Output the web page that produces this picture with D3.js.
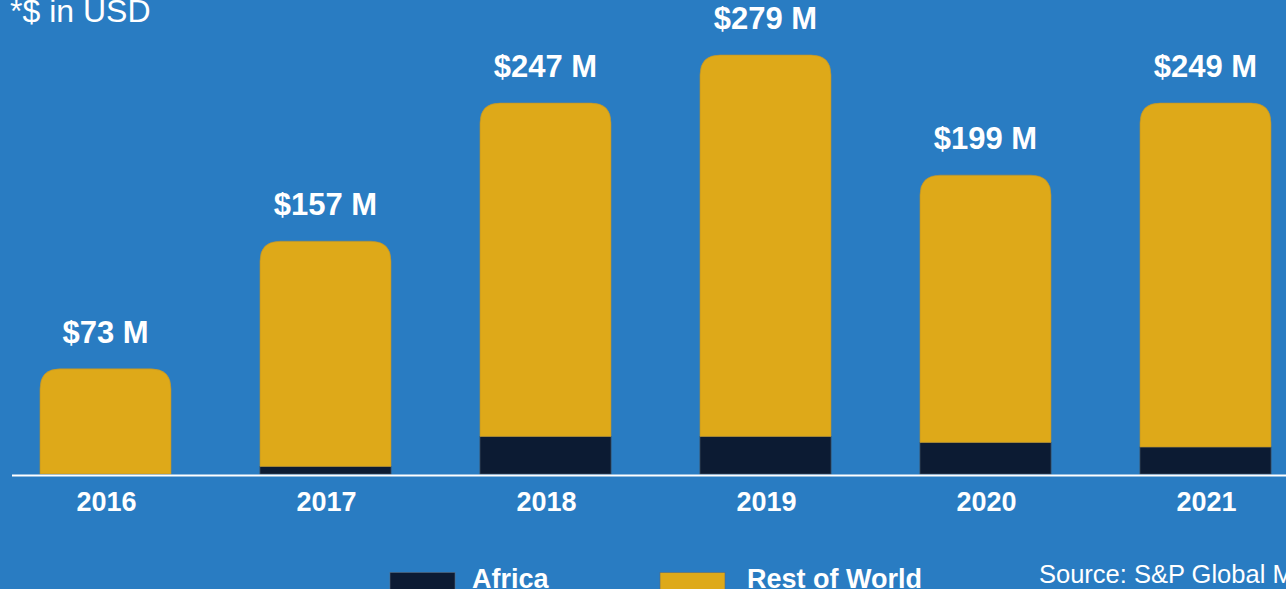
<!DOCTYPE html>
<html><head><meta charset="utf-8">
<script src="https://cdn.jsdelivr.net/npm/d3@7"></script>
<style>html,body{margin:0;padding:0;background:#297cc2;overflow:hidden}</style>
</head><body>
<svg id="c" width="1286" height="589"></svg>
<script>
const years = ["2016","2017","2018","2019","2020","2021"];
const africa = [0, 5, 25, 25, 21, 18];
const totals = [70, 155, 247, 279, 199, 247];
const labels = ["$73 M","$157 M","$247 M","$279 M","$199 M","$249 M"];
const seriesNames = ["Africa","Rest of World"];

const W=1286,H=589;
const svg=d3.select("#c");
svg.append("rect").attr("width",W).attr("height",H).attr("fill","#297cc2");
const colors={africa:"#0c1b33",rest:"#dea919"};
const FONT="Liberation Sans, Arial, sans-serif";
const x=d3.scaleBand().domain(years).range([-49,1360]).paddingInner(0.4045).paddingOuter(0.4045);
const y=d3.scaleLinear().domain([0,279]).range([474,55]);
const r=20;

const g=svg.append("g");
years.forEach((yr,i)=>{
  const x0=x(yr), bw=x.bandwidth();
  if(africa[i]>0){
    g.append("rect").attr("x",x0).attr("y",y(africa[i])).attr("width",bw)
     .attr("height",y(0)-y(africa[i])).attr("fill",colors.africa)
     .attr("stroke","#3b4a5c").attr("stroke-width",0.8);
  }
  const top=y(totals[i]), bot=y(africa[i]);
  const p=`M${x0},${bot} L${x0},${top+r} Q${x0},${top} ${x0+r},${top} L${x0+bw-r},${top} Q${x0+bw},${top} ${x0+bw},${top+r} L${x0+bw},${bot} Z`;
  g.append("path").attr("d",p).attr("fill",colors.rest).attr("stroke","#b89030").attr("stroke-width",0.6);
  g.append("text").attr("x",x0+bw/2).attr("y",top-26).attr("text-anchor","middle")
   .attr("fill","#fff").attr("font-family",FONT)
   .attr("font-weight","bold").attr("font-size",31).text(labels[i]);
});
svg.append("line").attr("x1",12).attr("x2",W).attr("y1",475.5).attr("y2",475.5).attr("stroke","#fff").attr("stroke-width",2);
const xa=svg.append("g");
years.forEach(yr=>{
  xa.append("text").attr("x",x(yr)+x.bandwidth()/2+1).attr("y",511).attr("text-anchor","middle")
   .attr("fill","#fff").attr("font-family",FONT)
   .attr("font-weight","bold").attr("font-size",27).text(yr);
});
svg.append("text").attr("x",10).attr("y",22).attr("fill","#fff")
 .attr("font-family",FONT).attr("font-size",32).text("*$ in USD");
const leg=[{n:seriesNames[0],c:colors.africa,sx:390,tx:472},{n:seriesNames[1],c:colors.rest,sx:660,tx:747}];
leg.forEach(l=>{
  svg.append("rect").attr("x",l.sx).attr("y",572.5).attr("width",65).attr("height",30).attr("fill",l.c).attr("stroke","#5a6a7a").attr("stroke-width",0.6);
  svg.append("text").attr("x",l.tx).attr("y",588).attr("fill","#fff").attr("font-family",FONT)
   .attr("font-weight","bold").attr("font-size",27).text(l.n);
});
svg.append("text").attr("x",1039).attr("y",583).attr("fill","#fff")
 .attr("font-family",FONT).attr("font-size",25.5).text("Source: S&P Global Market Intelligence");
</script>
</body></html>
